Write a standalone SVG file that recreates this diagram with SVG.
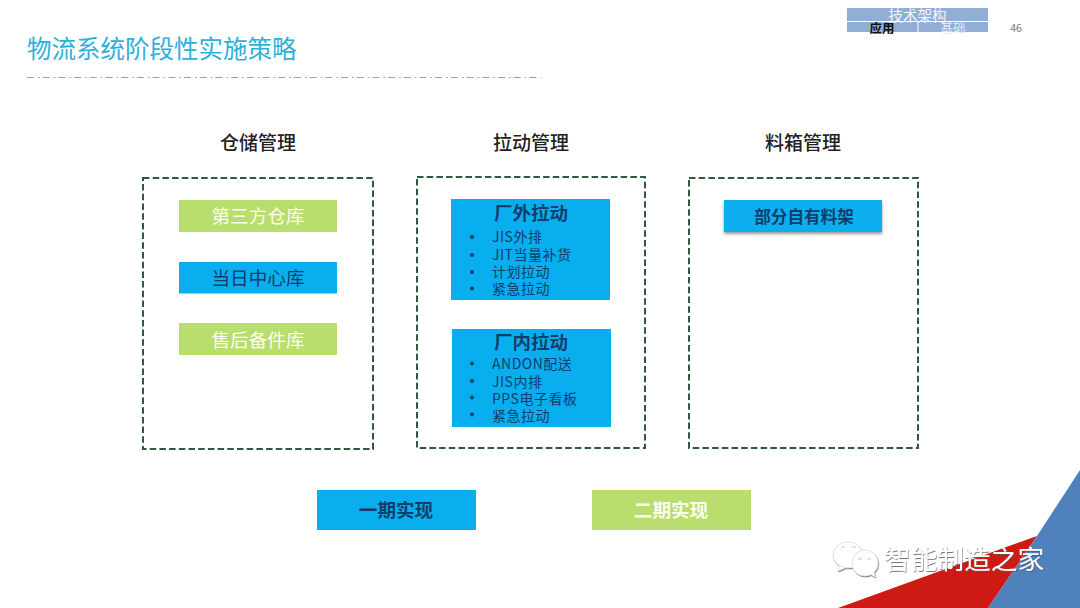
<svg xmlns="http://www.w3.org/2000/svg" width="1080" height="608" viewBox="0 0 1080 608">
<defs>
<filter id="wm" x="-10%" y="-20%" width="120%" height="150%"><feDropShadow dx="0.6" dy="1" stdDeviation="0.7" flood-color="#555" flood-opacity="0.8"/></filter>
<filter id="sh" x="-5%" y="-10%" width="110%" height="130%"><feDropShadow dx="0" dy="2" stdDeviation="1.5" flood-color="#444" flood-opacity="0.55"/></filter>
</defs>
<style>
text{font-family:"Noto Sans CJK SC","Noto Sans",sans-serif}
.frame{fill:none;stroke:#2f5a3c;stroke-width:2;stroke-dasharray:6.5 3.2}
.blue{fill:#09aeef}.green{fill:#b9de6d}
.lb{font-size:18.6px;text-anchor:middle}
.dark{fill:#123d6a}.white{fill:#fbfdf4}
.head{font-size:19px;font-weight:500;fill:#222;text-anchor:middle}
.h2{font-size:18.5px;font-weight:700;fill:#123d6a;text-anchor:middle}
.li{font-size:14px;letter-spacing:.5px;fill:#123d6a}
</style>
<rect width="1080" height="608" fill="#fff"/>
<g id="corner">
<polygon points="838,608 1037,536 988,608" fill="#cf1a14"/>
<polygon points="988,608 1037,536 1080,470 1080,608" fill="#4f81bd"/>
</g>
<g id="title">
<text x="27" y="58" font-size="24.5" fill="#2cb1d9">物流系统阶段性实施策略</text>
<line x1="27" y1="77.5" x2="541" y2="77.5" stroke="#8fa2c8" stroke-width="1.2" stroke-dasharray="7 4 1.700 3"/>
</g>
<g id="nav">
<rect x="847" y="8" width="141" height="24" fill="#92aed4"/>
<path d="M847 21.5H988M918 21.5V32" stroke="#fff" stroke-width="1" fill="none"/>
<text x="917.500" y="21" font-size="14.500" text-anchor="middle" fill="#f2f6fb">技术架构</text>
<text x="882" y="33" font-size="12.500" font-weight="700" text-anchor="middle" fill="#111">应用</text>
<text x="953" y="33" font-size="12.500" text-anchor="middle" fill="#e4ebf5">基础</text>
<text x="1016" y="32" font-size="10.500" text-anchor="middle" fill="#777">46</text>
</g>
<g id="storage">
<text class="head" x="258" y="150">仓储管理</text>
<rect class="frame" x="143" y="178" width="230" height="271"/>
<g id="n-3pl"><rect class="green" x="179" y="200" width="158" height="32"/><text class="lb white" x="258" y="223">第三方仓库</text></g>
<g id="n-dc"><rect class="blue" x="179" y="262" width="158" height="31.500"/><text class="lb dark" x="258" y="284.500">当日中心库</text></g>
<g id="n-after"><rect class="green" x="179" y="323" width="158" height="32"/><text class="lb white" x="258" y="346.500">售后备件库</text></g>
</g>
<g id="pull">
<text class="head" x="531" y="150">拉动管理</text>
<rect class="frame" x="417" y="177" width="228" height="271"/>
<g id="n-out">
<rect class="blue" x="451" y="199" width="159" height="101"/>
<text class="h2" x="531" y="220">厂外拉动</text>
<circle class="dark" cx="472" cy="237" r="2"/><circle class="dark" cx="472" cy="255" r="2"/><circle class="dark" cx="472" cy="272" r="2"/><circle class="dark" cx="472" cy="288.500" r="2"/>
<text class="li" x="492" y="242">JIS外排</text>
<text class="li" x="492" y="260">JIT当量补货</text>
<text class="li" x="492" y="277">计划拉动</text>
<text class="li" x="492" y="294">紧急拉动</text>
</g>
<g id="n-in">
<rect class="blue" x="452" y="329" width="159" height="98"/>
<text class="h2" x="531" y="349">厂内拉动</text>
<circle class="dark" cx="472" cy="363.500" r="2"/><circle class="dark" cx="472" cy="381" r="2"/><circle class="dark" cx="472" cy="397.500" r="2"/><circle class="dark" cx="472" cy="414.500" r="2"/>
<text class="li" x="492" y="369">ANDON配送</text>
<text class="li" x="492" y="387">JIS内排</text>
<text class="li" x="492" y="404">PPS电子看板</text>
<text class="li" x="492" y="421">紧急拉动</text>
</g>
</g>
<g id="bin">
<text class="head" x="803" y="150">料箱管理</text>
<rect class="frame" x="689" y="178" width="229" height="270"/>
<g id="n-rack"><rect class="blue" x="724" y="200" width="158" height="32" filter="url(#sh)"/><text x="804" y="222.500" font-size="16.600" font-weight="700" fill="#123d6a" text-anchor="middle">部分自有料架</text></g>
</g>
<g id="legend">
<g id="n-p1"><rect class="blue" x="317" y="490" width="159" height="40"/><text class="lb" x="396" y="517" font-size="19" font-weight="700" fill="#123d6a">一期实现</text></g>
<g id="n-p2"><rect class="green" x="592" y="490" width="159" height="40"/><text class="lb white" x="671" y="517" font-weight="700">二期实现</text></g>
</g>
<g id="watermark" filter="url(#wm)">
<ellipse cx="848" cy="555" rx="15" ry="13" fill="#fff" stroke="#ddd" stroke-width="0.800"/>
<path d="M839 566l-1 5l7-3" fill="#fff" stroke="#ddd" stroke-width="0.800"/>
<path d="M870 574l5 3l-1-6" fill="#fff" stroke="#ddd" stroke-width="0.800"/>
<ellipse cx="865" cy="563" rx="13" ry="13" fill="#fff" stroke="#ddd" stroke-width="0.800"/>
<path d="M841 548l2-2l2 2M852 548l2-2l2 2M858 560l2-2l2 2M867 560l2-2l2 2" fill="none" stroke="#bbb" stroke-width="0.800"/>
<text x="884" y="569" font-size="26.700" fill="#fff">智能制造之家</text>
</g>
</svg>
